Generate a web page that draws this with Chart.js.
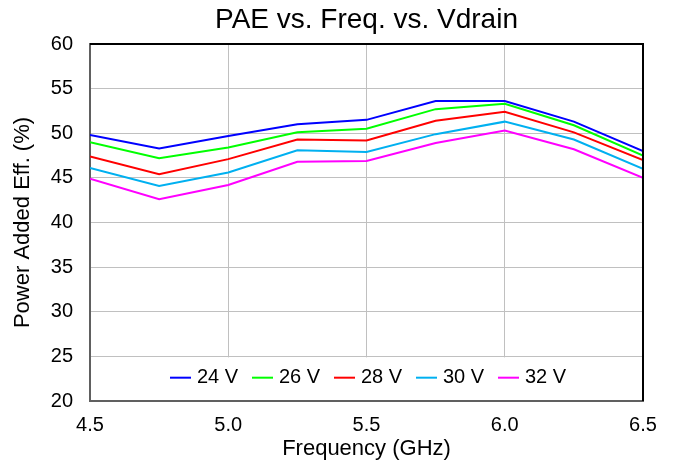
<!DOCTYPE html>
<html>
<head>
<meta charset="utf-8">
<script src="https://cdn.jsdelivr.net/npm/chart.js@4.4.0/dist/chart.umd.min.js"></script>
<style>
  html, body { margin: 0; padding: 0; background: #fff; }
  #wrap { width: 673px; height: 464px; position: relative; }
</style>
</head>
<body>
<div id="wrap"><canvas id="c" width="673" height="464"></canvas></div>
<script>
const freqs = [4.5, 4.75, 5.0, 5.25, 5.5, 5.75, 6.0, 6.25, 6.5];
const seriesLabels = ['24 V', '26 V', '28 V', '30 V', '32 V'];
const v24 = [49.8, 48.3, 49.7, 51.0, 51.5, 53.6, 53.6, 51.3, 48.0];
const v26 = [49.0, 47.2, 48.4, 50.1, 50.5, 52.7, 53.3, 50.9, 47.5];
const v28 = [47.4, 45.4, 47.1, 49.3, 49.2, 51.4, 52.4, 50.1, 47.0];
const v30 = [46.1, 44.1, 45.6, 48.1, 47.9, 49.9, 51.3, 49.3, 46.0];
const v32 = [44.9, 42.6, 44.2, 46.8, 46.9, 48.9, 50.3, 48.2, 45.0];
const xTicks = [4.5, 5.0, 5.5, 6.0, 6.5];
const yTicks = [20, 25, 30, 35, 40, 45, 50, 55, 60];

const colors = ['#0000ff', '#00ff00', '#ff0000', '#00b0f0', '#ff00ff'];
const FONT = "'Liberation Sans', Arial, sans-serif";

const allSeries = [v24, v26, v28, v30, v32];
const datasets = allSeries.map((vals, i) => ({
  label: seriesLabels[i],
  data: freqs.map((f, j) => ({ x: f, y: vals[j] })),
  borderColor: colors[i],
  backgroundColor: colors[i],
  borderWidth: 2,
  pointRadius: 0,
  tension: 0,
  fill: false
}));

const framePlugin = {
  id: 'frame',
  afterLayout(chart) {
    const t = chart.titleBlock;
    if (t) {
      t.left = chart.chartArea.left;
      t.right = chart.chartArea.right;
      t.width = t.right - t.left;
    }
  },
  beforeDatasetsDraw(chart) {
    const ctx = chart.ctx;
    const a = chart.chartArea;
    const ys = chart.scales.y;
    const top = ys.getPixelForValue(25) + 1;
    const left = a.left + 67, right = a.right - 66, bottom = a.bottom - 1;
    ctx.save();
    ctx.fillStyle = '#ffffff';
    ctx.fillRect(left, top, right - left, bottom - top);
    const cy = (top + bottom) / 2 - 1;
    ctx.font = '20px ' + FONT;
    ctx.textBaseline = 'middle';
    ctx.textAlign = 'left';
    chart.data.datasets.forEach((ds, i) => {
      const x0 = left + 13 + i * 82;
      ctx.strokeStyle = ds.borderColor;
      ctx.lineWidth = 2;
      ctx.beginPath();
      ctx.moveTo(x0, cy);
      ctx.lineTo(x0 + 21, cy);
      ctx.stroke();
      ctx.fillStyle = '#000';
      ctx.fillText(ds.label, x0 + 27, cy);
    });
    ctx.restore();
  },
  afterDraw(chart) {
    const ctx = chart.ctx;
    const a = chart.chartArea;
    ctx.save();
    ctx.strokeStyle = '#000';
    ctx.lineWidth = 2;
    ctx.beginPath();
    ctx.moveTo(a.left, a.top);
    ctx.lineTo(a.right, a.top);
    ctx.lineTo(a.right, a.bottom);
    ctx.stroke();
    ctx.restore();
  }
};

new Chart(document.getElementById('c'), {
  type: 'line',
  data: { datasets },
  options: {
    responsive: false,
    animation: false,
    layout: { padding: { left: 0, right: 30, top: 0, bottom: 0 } },
    plugins: {
      legend: { display: false },
      tooltip: { enabled: false },
      title: {
        display: true,
        text: 'PAE vs. Freq. vs. Vdrain',
        color: '#000',
        font: { family: FONT, size: 28, weight: 'normal' },
        padding: { top: 3, bottom: 7.4 }
      }
    },
    scales: {
      x: {
        type: 'linear',
        min: 4.5, max: 6.5,
        afterFit(s) { s.height = 63; },
        afterBuildTicks(s) { s.ticks = xTicks.map(v => ({ value: v })); },
        ticks: {
          color: '#000',
          font: { family: FONT, size: 20 },
          padding: 12,
          maxRotation: 0,
          callback: v => Number(v).toFixed(1)
        },
        grid: { color: '#c0c0c0', lineWidth: 1, drawTicks: false },
        border: { color: '#606060', width: 2 },
        title: {
          display: true,
          text: 'Frequency (GHz)',
          color: '#000',
          font: { family: FONT, size: 22 },
          padding: { top: 0, bottom: 2 }
        }
      },
      y: {
        min: 20, max: 60,
        afterFit(s) { s.width = 90; },
        afterBuildTicks(s) { s.ticks = yTicks.map(v => ({ value: v })); },
        ticks: {
          color: '#000',
          font: { family: FONT, size: 20 },
          padding: 17
        },
        grid: { color: '#c0c0c0', lineWidth: 1, drawTicks: false },
        border: { color: '#606060', width: 2 },
        title: {
          display: true,
          text: 'Power Added Eff. (%)',
          color: '#000',
          font: { family: FONT, size: 22 },
          padding: { top: 10, bottom: 0 }
        }
      }
    }
  },
  plugins: [framePlugin]
});
</script>
</body>
</html>
